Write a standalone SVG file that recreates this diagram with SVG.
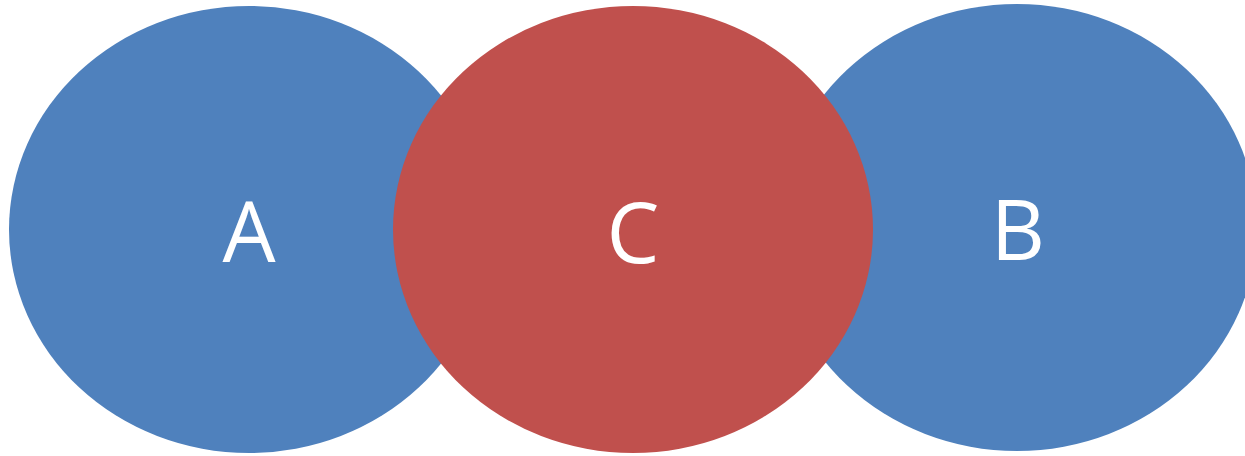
<svg xmlns="http://www.w3.org/2000/svg" width="1245" height="456" viewBox="0 0 1245 456">
<style>
.blue{fill:#4F81BD}
.red{fill:#C0504D}
.lbl{fill:#FFFFFF;font-family:"Open Sans","Liberation Sans",sans-serif;font-size:84px;text-anchor:middle}
</style>
<rect width="1245" height="456" fill="#FFFFFF"/>
<g id="nodeA"><ellipse class="blue" cx="249" cy="229.5" rx="240" ry="223.5"/><text class="lbl" x="249" y="262">A</text></g>
<g id="nodeB"><ellipse class="blue" cx="1017" cy="227.5" rx="240" ry="223.5"/><text class="lbl" x="1018" y="260">B</text></g>
<g id="nodeC"><ellipse class="red" cx="633" cy="229.5" rx="240" ry="223.5"/><text class="lbl" x="633" y="263">C</text></g>
<g id="connectors"></g>
</svg>
